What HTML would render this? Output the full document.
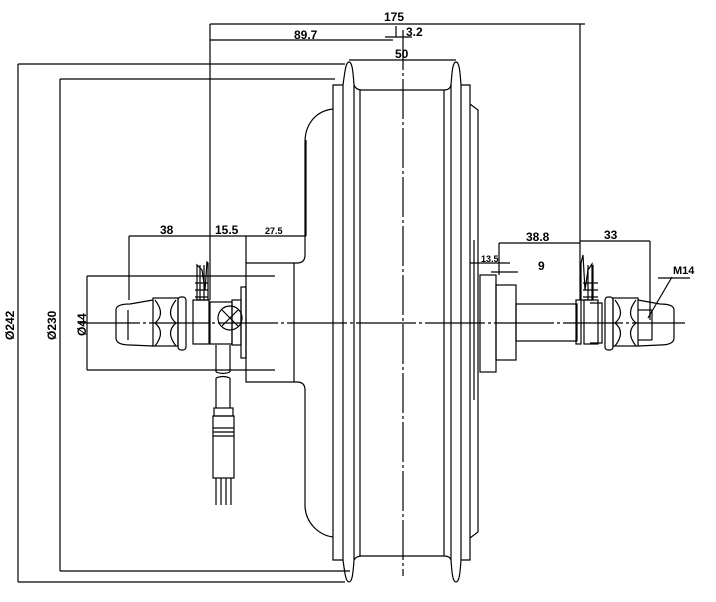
<!DOCTYPE html>
<html><head><meta charset="utf-8"><style>
html,body{margin:0;padding:0;background:#fff;}
svg{display:block;}
text{font-family:"Liberation Sans",sans-serif;font-weight:bold;fill:#000;}
</style></head><body>
<svg width="716" height="602" viewBox="0 0 716 602" xmlns="http://www.w3.org/2000/svg">
<g fill="none" stroke="#000" stroke-width="1.2">
<!-- top dims -->
<line x1="210" y1="24" x2="585" y2="24"/>
<line x1="210" y1="40" x2="393" y2="40"/>
<line x1="385" y1="37" x2="412" y2="37"/>
<line x1="396" y1="26" x2="396" y2="37"/>
<line x1="210" y1="24" x2="210" y2="300"/>
<line x1="580" y1="24" x2="580" y2="300"/>
<line x1="349" y1="60" x2="456" y2="60"/>
<!-- centerline -->
<line x1="403" y1="30" x2="403" y2="576" stroke-dasharray="40,3,3,3"/>
<line x1="80" y1="323" x2="685" y2="323" stroke-dasharray="60,3,3,3"/>
<!-- diameter dims -->
<line x1="18" y1="64" x2="345" y2="64"/>
<line x1="18" y1="64" x2="18" y2="582"/>
<line x1="18" y1="582" x2="345" y2="582"/>
<line x1="60" y1="79" x2="335" y2="79"/>
<line x1="60" y1="79" x2="60" y2="571"/>
<line x1="60" y1="571" x2="350" y2="571"/>
<line x1="87" y1="276" x2="275" y2="276"/>
<line x1="87" y1="370" x2="275" y2="370"/>
<line x1="87" y1="276" x2="87" y2="370"/>
<!-- rim flanges -->
<path d="M343,85 C345,70 346,62 349,62 C352,62 353,70 354,85 L354,560 C353,575 352,582 349,582 C346,582 345,575 343,560 Z"/>
<path d="M451,85 C452,70 453,62 456,62 C459,62 460,70 461,85 L461,560 C460,575 459,582 456,582 C453,582 452,575 451,560 Z"/>
<path d="M354,85 Q356,90 362,90 L444,90 Q450,90 451,85"/>
<path d="M354,560 Q356,556 362,556 L444,556 Q450,556 451,560"/>
<line x1="360" y1="90" x2="360" y2="556"/>
<line x1="444" y1="90" x2="444" y2="556"/>
<path d="M343,85 L333,85 L333,560 L343,560"/>
<path d="M461,85 L470,85 L470,560 L461,560"/>
<!-- left cap -->
<path d="M333,109 C315,111 305,125 305,142 L305,255 Q305,263 297,263 L246,263 L246,382 L297,382 Q305,382 305,390 L305,505 C305,522 318,535 333,537"/>
<line x1="294" y1="263" x2="294" y2="382"/>
<rect x="241" y="287" width="5" height="71"/>
<!-- right cap -->
<path d="M470,104 L478,110 L478,532 L470,538"/>
<line x1="474" y1="240" x2="474" y2="400"/>
<rect x="480" y="275" width="16" height="97"/>
<rect x="496" y="285" width="20" height="75"/>
<rect x="516" y="304" width="61" height="37"/>
<rect x="576" y="300" width="5" height="44"/>
<!-- right nut -->
<path d="M581,263 L583,255 L585,290 L588,270 L592,264 L592,300 L581,300 Z"/>
<rect x="584" y="300" width="14" height="44"/>
<path d="M590,303 H602 V343 H590"/>
<rect x="605" y="297" width="8" height="53" rx="3"/>
<rect x="613" y="298" width="25" height="48"/>
<path d="M615,300 Q626,314 615,323 Q626,332 615,346 M636,300 Q625,314 636,323 Q625,332 636,346"/>
<path d="M638,300 L660,304 Q674,304 674,310 L674,338 Q674,345 660,345 L638,346"/>
<line x1="638" y1="310" x2="652" y2="310"/><line x1="652" y1="310" x2="652" y2="340"/><line x1="638" y1="340" x2="652" y2="340"/>
<path d="M583,283 H598 M583,290 H598 M583,297 H598 M588,265 V300 M593,265 V300"/>
<line x1="672" y1="277" x2="648" y2="318"/>
<line x1="658" y1="278" x2="690" y2="278"/>
<!-- left nut -->
<path d="M208,263 L207,262 L205,290 L202,270 L197,265 L197,300 L208,300 Z"/>
<rect x="193" y="300" width="16" height="44"/>
<path d="M195,283 H208 M195,290 H208 M195,297 H208 M200,265 V300 M204,265 V300"/>
<rect x="178" y="297" width="8" height="53" rx="3"/>
<rect x="153" y="298" width="25" height="48"/>
<path d="M155,300 Q166,314 155,323 Q166,332 155,346 M176,300 Q165,314 176,323 Q165,332 176,346"/>
<path d="M153,300 L130,304 Q116,304 116,310 L116,338 Q116,345 130,345 L153,346"/>
<line x1="128" y1="310" x2="128" y2="340"/>
<rect x="210" y="302" width="22" height="42"/>
<circle cx="230" cy="318" r="12"/>
<line x1="222" y1="310" x2="238" y2="326"/><line x1="238" y1="310" x2="222" y2="326"/>
<rect x="232" y="300" width="9" height="45"/>
<!-- cable -->
<path d="M216,345 V372 M230,345 V372 M216,378 V408 M230,378 V408"/>
<path d="M216,372 Q223,375 230,372 M216,378 Q223,375 230,378"/>
<rect x="214" y="408" width="19" height="8"/>
<rect x="213" y="416" width="21" height="62"/>
<path d="M213,428 H234 M213,432 H234 M213,436 H234"/>
<path d="M216,478 V505 M221,478 V505 M226,478 V505 M231,478 V505"/>
<!-- left dims -->
<line x1="129" y1="236" x2="306" y2="236"/>
<line x1="129" y1="236" x2="129" y2="300"/>
<line x1="246" y1="236" x2="246" y2="263"/>
<line x1="306" y1="236" x2="306" y2="140"/>
<!-- right dims -->
<line x1="499" y1="243" x2="580" y2="243"/>
<line x1="499" y1="243" x2="499" y2="275"/>
<line x1="580" y1="241" x2="650" y2="241"/>
<line x1="650" y1="241" x2="650" y2="320"/>
<line x1="470" y1="263" x2="510" y2="263"/>
<line x1="491" y1="272" x2="518" y2="272"/>
</g>
<text x="384" y="21" font-size="12">175</text>
<text x="294" y="39" font-size="12">89.7</text>
<text x="406" y="36" font-size="12">3.2</text>
<text x="395" y="58" font-size="12">50</text>
<text x="160" y="234" font-size="12">38</text>
<text x="215" y="234" font-size="12">15.5</text>
<text x="265" y="234" font-size="9">27.5</text>
<text x="526" y="241" font-size="12">38.8</text>
<text x="604" y="239" font-size="12">33</text>
<text x="481" y="262" font-size="9">13.5</text>
<text x="538" y="270" font-size="12">9</text>
<text x="673" y="274" font-size="11">M14</text>
<text transform="translate(14,340) rotate(-90)" font-size="12">Ø242</text>
<text transform="translate(56,340) rotate(-90)" font-size="12">Ø230</text>
<text transform="translate(86,336) rotate(-90)" font-size="12">Ø44</text>
</svg>
</body></html>
